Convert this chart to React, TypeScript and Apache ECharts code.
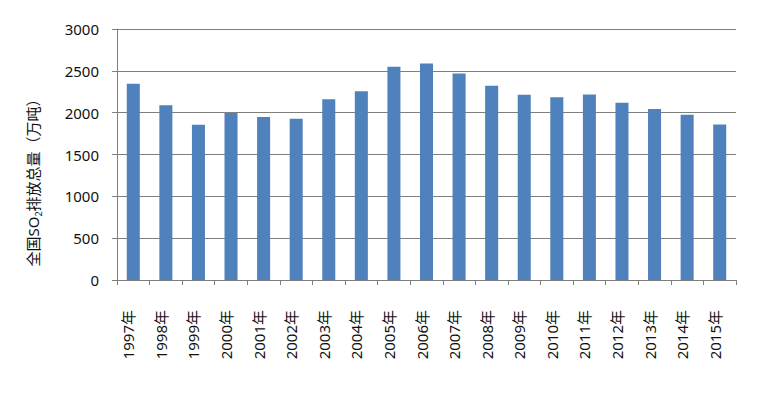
import React, { useEffect, useRef } from "react";
import * as echarts from "echarts";

const years = [
  "1997年", "1998年", "1999年", "2000年", "2001年", "2002年", "2003年", "2004年", "2005年", "2006年",
  "2007年", "2008年", "2009年", "2010年", "2011年", "2012年", "2013年", "2014年", "2015年",
];
const so2Emissions = [
  2346, 2090, 1857, 1995, 1948, 1927, 2159, 2255, 2549, 2589,
  2468, 2321, 2214, 2185, 2218, 2118, 2044, 1974, 1859,
];
const yMin = 0;
const yMax = 3000;
const yInterval = 500;

const FONT = "'Noto Sans', 'Noto Sans CJK SC', sans-serif";
const GRAY = "#7f7f7f";

export default function App() {
  const ref = useRef<HTMLDivElement>(null);
  useEffect(() => {
    if (!ref.current) return;
    const chart = echarts.init(ref.current, null, { renderer: "svg" });
    chart.setOption({
      animation: false,
      backgroundColor: "#ffffff",
      grid: { left: 117, right: 34, top: 29, bottom: 116, containLabel: false },
      xAxis: {
        type: "category",
        data: years,
        boundaryGap: true,
        axisLine: { show: true, lineStyle: { color: GRAY, width: 1 } },
        axisTick: { show: true, alignWithLabel: false, length: 5, lineStyle: { color: GRAY } },
        axisLabel: {
          rotate: 90,
          margin: 30,
          interval: 0,
          color: "#111111",
          fontSize: 15,
          fontFamily: FONT,
          verticalAlign: "bottom",
          lineHeight: 10,
        },
        splitLine: { show: false },
      },
      yAxis: {
        type: "value",
        min: yMin,
        max: yMax,
        interval: yInterval,
        axisLine: { show: true, lineStyle: { color: GRAY, width: 1 } },
        axisTick: { show: true, length: 5, lineStyle: { color: GRAY } },
        axisLabel: {
          margin: 18,
          color: "#111111",
          fontSize: 15,
          fontFamily: FONT,
          formatter: (v: number) => String(v),
        },
        splitLine: { show: true, lineStyle: { color: GRAY, width: 1 } },
      },
      graphic: [
        {
          type: "text",
          x: 33,
          y: 179,
          rotation: Math.PI / 2,
          style: {
            text: "全国SO{sub|2}排放总量（万吨）",
            fontSize: 15,
            fontFamily: FONT,
            fill: "#111111",
            align: "center",
            verticalAlign: "middle",
            rich: {
              sub: { fontSize: 9, fontFamily: FONT, fill: "#111111", verticalAlign: "bottom", lineHeight: 20 },
            },
          },
        },
      ],
      series: [
        {
          type: "bar",
          data: so2Emissions,
          barWidth: "40%",
          itemStyle: { color: "#4F81BD" },
        },
      ],
    });
    return () => chart.dispose();
  }, []);
  return (
    <div
      ref={ref}
      style={{ position: "fixed", left: 0, top: 0, width: 770, height: 396, background: "#fff" }}
    />
  );
}
